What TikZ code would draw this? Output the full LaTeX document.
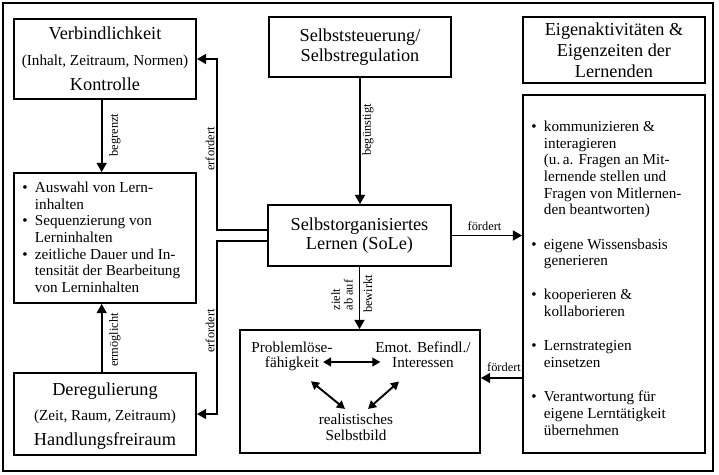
\documentclass[tikz,border=0pt]{standalone}
\usepackage{fontspec}
\setmainfont{Liberation Serif}
\usetikzlibrary{arrows.meta,calc}
\newcommand\fbig{\fontsize{13.7}{15}\selectfont}
\newcommand\fsmall{\fontsize{11.4}{12.45}\selectfont}
\newcommand\fin{\fontsize{11.4}{10.7}\selectfont}
\newcommand\flab{\fontsize{9.3}{9.6}\selectfont}
\newcommand\bul{\makebox[9.5pt][l]{\textbullet}}
\begin{document}
\begin{tikzpicture}[x=0.75pt,y=-0.75pt,
  box/.style={draw,line width=1.35pt,inner sep=0pt,align=center,font=\fbig},
  arr/.style={line width=1.45pt,-{Triangle[length=7pt,width=7.5pt]}},
  darr/.style={line width=1.45pt,{Triangle[length=6pt,width=6.5pt]}-{Triangle[length=6pt,width=6.5pt]}},
  lab/.style={font=\flab,rotate=90,inner sep=0pt},
  hlab/.style={font=\flab,inner sep=0pt},
  txt/.style={font=\fin,inner sep=0pt,align=center},
  list/.style={font=\fsmall,inner sep=0pt,anchor=base west}]
\useasboundingbox (0,0) rectangle (719,475);
\node[draw,line width=1.35pt,inner sep=0pt,minimum width=532.5pt,minimum height=351pt] (frame) at (358,237) {};
% boxes
\node[box,minimum width=136.5pt,minimum height=60pt] (verb) at (105,59)
  {Verbindlichkeit\\[4.5pt]{\fsmall(Inhalt, Zeitraum, Normen)}\\[3.75pt]Kontrolle};
\node[box,minimum width=136.5pt,minimum height=45pt] (steu) at (360,47)
  {Selbststeuerung/\\Selbstregulation};
\node[box,minimum width=136.5pt,minimum height=49.5pt] (eigen) at (614,50)
  {Eigenaktivitäten \&\\[0.75pt]Eigenzeiten der\\[0.75pt]Lernenden};
\node[box,minimum width=137.25pt,minimum height=45.75pt] (sole) at (359.5,235.5)
  {Selbstorganisiertes\\[-1.25pt]Lernen (SoLe)};
\node[box,minimum width=136.5pt,minimum height=61.5pt,text depth=0pt] (dereg) at (105,414)
  {Deregulierung\\[3.75pt]{\fsmall(Zeit, Raum, Zeitraum)}\\[3.75pt]Handlungsfreiraum};
\node[box,minimum width=136.5pt,minimum height=97.5pt] (aus) at (105,238) {};
\node[box,minimum width=136.5pt,minimum height=268.5pt] (right) at (614,274) {};
\node[box,minimum width=180pt,minimum height=92.25pt] (bot) at (360,391.5) {};
% list texts
\node[list] (ausT) at (22,192.7) {\begin{tabular}[t]{@{}l@{}l@{}}
\bul & Auswahl von Lern-\\
 & inhalten\\
\bul & Sequenzierung von\\
 & Lerninhalten\\
\bul & zeitliche Dauer und In-\\
 & tensität der Bearbeitung\\
 & von Lerninhalten
\end{tabular}};
\node[list] (rightT) at (531,131.7) {\begin{tabular}[t]{@{}l@{}l@{}}
\bul & kommunizieren \&\\
 & interagieren\\
 & (u.\,a. Fragen an Mit-\\
 & lernende stellen und\\
 & Fragen von Mitlernen-\\
 & den beantworten)\\[13.3pt]
\bul & eigene Wissensbasis\\
 & generieren\\[13.3pt]
\bul & kooperieren \&\\
 & kollaborieren\\[13.3pt]
\bul & Lernstrategien\\
 & einsetzen\\[13.3pt]
\bul & Verantwortung für\\
 & eigene Lerntätigkeit\\
 & übernehmen
\end{tabular}};
% inner texts
\node[txt] (prob) at (292,356.3) {Problemlöse-\\fähigkeit};
\node[txt] (emot) at (423,354.7) {Emot. Befindl./\\Interessen};
\node[txt] (real) at (356,427.3) {realistisches\\[1.5pt]Selbstbild};
% connectors
\draw[arr] ([xshift=-2.5pt]verb.south) -- ([xshift=-2.5pt]aus.north);
\draw[arr] ([xshift=-2.5pt]dereg.north) -- ([xshift=-2.5pt]aus.south);
\draw[arr] (steu.south) -- (steu.south |- sole.north);
\draw[arr] (sole.south) -- (sole.south |- bot.north);
\draw[arr] (sole.east) -- (sole.east -| right.west);
\coordinate (ka) at (217,59);
\coordinate (kb) at (217,414);
\draw[arr] ([yshift=4pt]sole.west) -| (ka) -- (verb.east);
\draw[arr] ([yshift=-4pt]sole.west) -| (kb) -- (dereg.east);
\coordinate (kc) at ([yshift=-78pt]right.west);
\draw[arr] (kc) -- (kc -| bot.east);
\draw[darr] ([xshift=-7.3pt,yshift=-4.3pt]prob.east) -- ([xshift=4pt,yshift=-5.5pt]emot.west);
\draw[darr] ([xshift=14.25pt,yshift=-8pt]prob.south) -- ([xshift=-8.25pt,yshift=3.45pt]real.north);
\draw[darr] ([xshift=-18pt,yshift=-10.5pt]emot.south) -- ([xshift=9pt,yshift=3.45pt]real.north);
% labels
\node[lab] (l1) at (115,135) {begrenzt};
\node[lab] (l2) at (210,149) {erfordert};
\node[lab] (l3) at (115,340) {ermöglicht};
\node[lab] (l4) at (210,331) {erfordert};
\node[lab] (l5) at (368,130) {begünstigt};
\node[hlab] (l6) at (484.5,226.5) {fördert};
\node[lab,align=left] (l7) at (342,295) {zielt\\ab auf};
\node[lab] (l8) at (368,294) {bewirkt};
\node[hlab] (l9) at (504,367.5) {fördert};
\end{tikzpicture}
\end{document}
